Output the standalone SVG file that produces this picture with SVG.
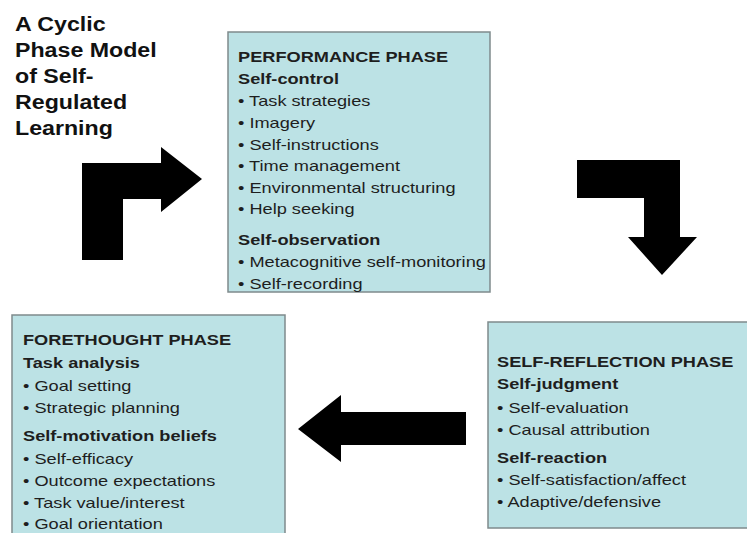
<svg xmlns="http://www.w3.org/2000/svg" width="747" height="533" viewBox="0 0 747 533">
<style>
.box{fill:#bce2e5;stroke:#7f8a8c;stroke-width:1.5}
.t{font-family:"Liberation Sans",Arial,sans-serif;font-size:14px;fill:#1e1e1e}
.h{font-weight:bold}
.title{font-family:"Liberation Sans",Arial,sans-serif;font-size:20px;font-weight:bold;fill:#111}
.arrow{fill:#000}
</style>
<rect width="747" height="533" fill="#fff"/>
<g id="title" transform="translate(15,0) scale(1.16,1)">
<text class="title" x="0" y="31">A Cyclic</text>
<text class="title" x="0" y="57">Phase Model</text>
<text class="title" x="0" y="83">of Self-</text>
<text class="title" x="0" y="109">Regulated</text>
<text class="title" x="0" y="135">Learning</text>
</g>
<g id="performance">
<rect class="box" x="228" y="32" width="262" height="260"/>
<g transform="translate(238,0) scale(1.3,1)">
<text class="t h" x="0" y="62">PERFORMANCE PHASE</text>
<text class="t h" x="0" y="84">Self-control</text>
<text class="t" x="0" y="106">• Task strategies</text>
<text class="t" x="0" y="128">• Imagery</text>
<text class="t" x="0" y="150">• Self-instructions</text>
<text class="t" x="0" y="171">• Time management</text>
<text class="t" x="0" y="193">• Environmental structuring</text>
<text class="t" x="0" y="214">• Help seeking</text>
<text class="t h" x="0" y="245">Self-observation</text>
<text class="t" x="0" y="267">• Metacognitive self-monitoring</text>
<text class="t" x="0" y="289">• Self-recording</text>
</g>
</g>
<g id="forethought">
<rect class="box" x="12" y="315" width="273" height="230"/>
<g transform="translate(23,0) scale(1.3,1)">
<text class="t h" x="0" y="345">FORETHOUGHT PHASE</text>
<text class="t h" x="0" y="368">Task analysis</text>
<text class="t" x="0" y="391">• Goal setting</text>
<text class="t" x="0" y="413">• Strategic planning</text>
<text class="t h" x="0" y="441">Self-motivation beliefs</text>
<text class="t" x="0" y="464">• Self-efficacy</text>
<text class="t" x="0" y="486">• Outcome expectations</text>
<text class="t" x="0" y="508">• Task value/interest</text>
<text class="t" x="0" y="529">• Goal orientation</text>
</g>
</g>
<g id="reflection">
<rect class="box" x="488" y="322" width="270" height="206"/>
<g transform="translate(497,0) scale(1.3,1)">
<text class="t h" x="0" y="367">SELF-REFLECTION PHASE</text>
<text class="t h" x="0" y="389">Self-judgment</text>
<text class="t" x="0" y="413">• Self-evaluation</text>
<text class="t" x="0" y="435">• Causal attribution</text>
<text class="t h" x="0" y="463">Self-reaction</text>
<text class="t" x="0" y="485">• Self-satisfaction/affect</text>
<text class="t" x="0" y="507">• Adaptive/defensive</text>
</g>
</g>
<g id="connectors">
<polygon class="arrow" points="82,260 82,163 161,163 161,147 202,179 161,212 161,199 123,199 123,260"/>
<polygon class="arrow" points="577,160 680,160 680,237 697,237 662,275 628,237 644,237 644,198 577,198"/>
<polygon class="arrow" points="298,429 341,395 341,412 466,412 466,445 341,445 341,462"/>
</g>
</svg>
